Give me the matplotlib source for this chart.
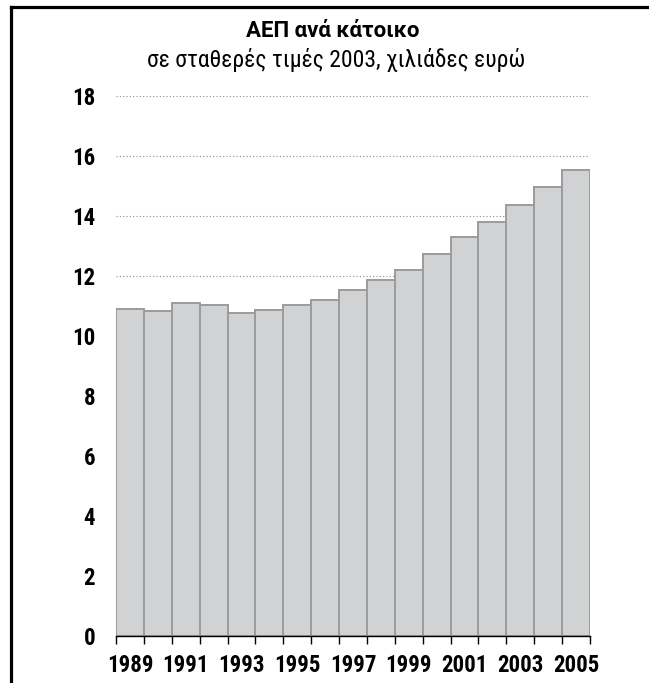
import matplotlib.pyplot as plt
from matplotlib import font_manager
from matplotlib.lines import Line2D
import numpy as np

# data
years = list(range(1989, 2006))
gdp_per_capita = [10.9, 10.85, 11.1, 11.05, 10.77, 10.87, 11.05, 11.2, 11.54,
                  11.87, 12.2, 12.73, 13.3, 13.8, 14.38, 14.98, 15.55]
y_ticks = [0, 2, 4, 6, 8, 10, 12, 14, 16, 18]
x_labels = [str(y) for y in years if y % 2 == 1]

TITLE = 'ΑΕΠ ανά κάτοικο'
SUBTITLE = 'σε σταθερές τιμές 2003, χιλιάδες ευρώ'


def pick_font(names):
    avail = set(f.name for f in font_manager.fontManager.ttflist)
    for n in names:
        if n in avail:
            return n
    return 'DejaVu Sans'


FONT = pick_font(['Roboto Condensed', 'Liberation Sans Narrow', 'DejaVu Sans Condensed', 'Liberation Sans'])
TITLE_FONT = pick_font(['Roboto', 'Liberation Sans'])
plt.rcParams['font.family'] = [FONT, 'DejaVu Sans']

fig = plt.figure(figsize=(6.49, 6.83), dpi=100)
ax = fig.add_axes([116 / 649, 1 - 636 / 683, 474 / 649, 540 / 683])

ax.bar(years, gdp_per_capita, width=1.0, color='#d1d2d4', edgecolor='#9b9b9b',
       linewidth=1.4, zorder=2)

ax.set_xlim(years[0] - 0.5, years[-1] + 0.5)
ax.set_ylim(0, 18)

# dotted grid behind the bars
for v in y_ticks[1:]:
    ax.axhline(v, color='#8a8a8a', linestyle=(0, (1, 2)), linewidth=0.8, zorder=1)

ax.set_yticks(y_ticks)
ax.set_yticklabels([str(v) for v in y_ticks], fontsize=16.5, fontweight='bold')
ax.tick_params(axis='y', length=0, pad=15)

edges = np.arange(years[0] - 0.5, years[-1] + 1.0, 1.0)
ax.set_xticks(edges)
ax.set_xticklabels([''] * len(edges))
ax.tick_params(axis='x', which='major', direction='out', length=6, width=1, color='black')
ax.set_xticks([y for y in years if y % 2 == 1], minor=True)
ax.set_xticklabels(x_labels, minor=True, fontsize=16.5, fontweight='bold')
ax.tick_params(axis='x', which='minor', length=0, pad=13)

for s in ['left', 'right', 'top']:
    ax.spines[s].set_visible(False)
ax.spines['bottom'].set_color('black')
ax.spines['bottom'].set_linewidth(1.0)
ax.spines['bottom'].set_zorder(3)

fig.text(333 / 649, 1 - 31 / 683, TITLE, ha='center', va='center', fontsize=16,
         fontweight='bold', family=[TITLE_FONT, 'DejaVu Sans'])
fig.text(336 / 649, 1 - 60 / 683, SUBTITLE, ha='center', va='center', fontsize=17)

# frame: left and top edges only
fx = 11 / 649
fy = 1 - 6.5 / 683
fig.add_artist(Line2D([fx, fx], [0, fy], transform=fig.transFigure, color='black', linewidth=2.3))
fig.add_artist(Line2D([fx, 1], [fy, fy], transform=fig.transFigure, color='black', linewidth=2.3))

fig.savefig('out.png', dpi=100)
